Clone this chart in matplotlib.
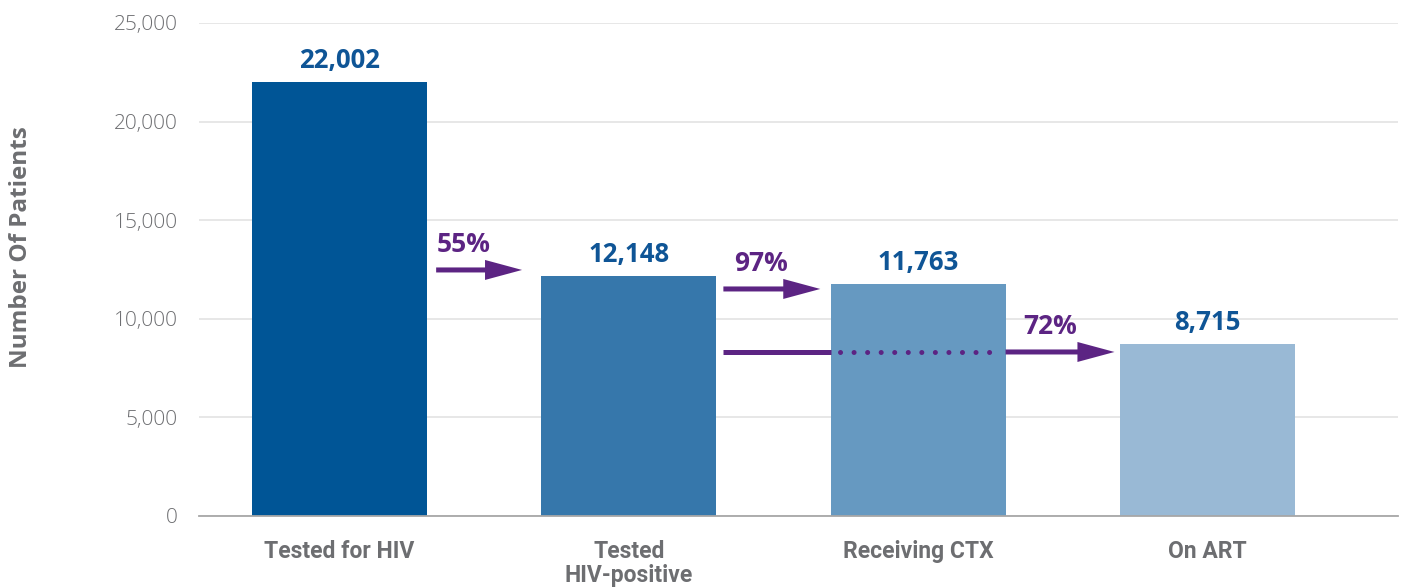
import matplotlib
matplotlib.use("Agg")
import matplotlib.pyplot as plt
from matplotlib.ticker import FuncFormatter

# Daten
categories = ["Tested for HIV", "Tested\nHIV-positive", "Receiving CTX", "On ART"]
patients = [22002, 12148, 11763, 8715]
bar_colors = ["#005596", "#3677ab", "#6699c1", "#99b9d5"]
percent_labels = ["55%", "97%", "72%"]

purple = "#5c2483"
blue_text = "#0f5596"
gray_text = "#6d6e71"

fig = plt.figure(figsize=(14.03, 5.87), dpi=100)
ax = fig.add_axes([0.1418, 0.121, 0.8546, 0.8399])

x = list(range(len(categories)))
ax.bar(x, patients, width=0.605, color=bar_colors, zorder=2)

ax.set_xlim(-0.486, 3.659)
ax.set_ylim(0, 25000)
ax.set_yticks(range(0, 25001, 5000))
ax.yaxis.set_major_formatter(FuncFormatter(lambda v, p: f"{int(v):,}"))
ax.grid(axis="y", color="#e3e3e3", linewidth=1.2, zorder=0)
for side in ["top", "right", "left"]:
    ax.spines[side].set_visible(False)
ax.spines["bottom"].set_color("#a7a7a7")
ax.spines["bottom"].set_linewidth(1.3)
ax.tick_params(axis="both", length=0)
ax.tick_params(axis="y", pad=15)
ax.tick_params(axis="x", pad=17)

for lab in ax.get_yticklabels():
    lab.set_fontfamily("Open Sans")
    lab.set_fontweight("light")
    lab.set_fontsize(15)
    lab.set_color(gray_text)

ax.set_xticks(x)
ax.set_xticklabels(categories, fontfamily="Roboto", fontweight="bold",
                   fontsize=16.5, color=gray_text, linespacing=1.1)

ax.set_ylabel("Number Of Patients", fontfamily="Open Sans", fontweight="bold",
              fontsize=17.5, color=gray_text, labelpad=0)
ax.yaxis.set_label_coords(-0.138, 0.546)

# Werte ueber den Balken
for xi, val in zip(x, patients):
    ax.annotate(f"{val:,}", (xi, val), xytext=(0, 6), textcoords="offset points",
                ha="center", va="bottom", fontfamily="Open Sans", fontweight="bold",
                fontsize=18.5, color=blue_text)

# Pfeile zwischen den Stufen (Breiten in Datenkoordinaten)
shaft_w = 254
head_w = 1014
head_len = 0.128
pct_font = dict(fontfamily="Open Sans", fontweight="bold", fontsize=19, color=purple)


def draw_arrow(x0, x1, y):
    ax.arrow(x0, y, x1 - x0, 0, width=shaft_w, head_width=head_w,
             head_length=head_len, length_includes_head=True,
             color=purple, lw=0, zorder=3)


# 55%
y55 = 12475
draw_arrow(0.334, 0.631, y55)
ax.text(0.336, y55 + 600, percent_labels[0], ha="left", va="bottom", **pct_font)

# 97%
y97 = 11511
draw_arrow(1 + 0.327, 1 + 0.662, y97)
ax.text(1 + 0.365, y97 + 600, percent_labels[1], ha="left", va="bottom", **pct_font)

# 72% (ueber Receiving CTX hinweg)
y72 = 8316
ax.plot([1 + 0.327, 2 - 0.3025], [y72, y72], color=purple, lw=3.6,
        solid_capstyle="butt", zorder=3)
ax.plot([2 - 0.27, 2 + 0.285], [y72, y72], color=purple, lw=3.6,
        linestyle=(0, (0.01, 2.7)), dash_capstyle="round", zorder=3)
draw_arrow(2 + 0.3025, 2 + 0.679, y72)
ax.text(2 + 0.362, y72 + 600, percent_labels[2], ha="left", va="bottom", **pct_font)

fig.savefig("out.png", dpi=100)
